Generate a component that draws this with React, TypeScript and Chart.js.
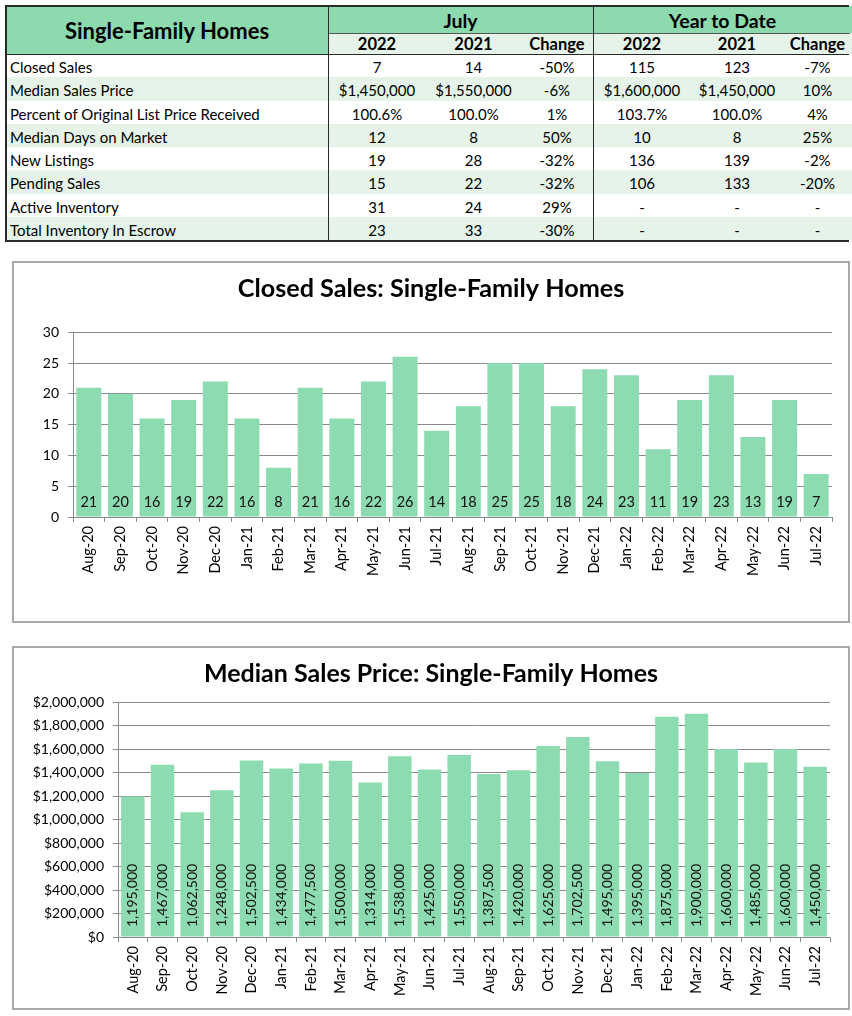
import React, { useEffect, useRef } from "react";
import { Chart, registerables } from "chart.js";

Chart.register(...registerables);

// ---------- DATA ----------
const months = [
  "Aug-20", "Sep-20", "Oct-20", "Nov-20", "Dec-20", "Jan-21", "Feb-21", "Mar-21",
  "Apr-21", "May-21", "Jun-21", "Jul-21", "Aug-21", "Sep-21", "Oct-21", "Nov-21",
  "Dec-21", "Jan-22", "Feb-22", "Mar-22", "Apr-22", "May-22", "Jun-22", "Jul-22",
];
const closedSales = [21, 20, 16, 19, 22, 16, 8, 21, 16, 22, 26, 14, 18, 25, 25, 18, 24, 23, 11, 19, 23, 13, 19, 7];
const medianPrice = [
  1195000, 1467000, 1062500, 1248000, 1502500, 1434000, 1477500, 1500000,
  1314000, 1538000, 1425000, 1550000, 1387500, 1420000, 1625000, 1702500,
  1495000, 1395000, 1875000, 1900000, 1600000, 1485000, 1600000, 1450000,
];

const tableTitle = "Single-Family Homes";
const periodHeaders = ["July", "Year to Date"];
const columnHeaders = ["2022", "2021", "Change", "2022", "2021", "Change"];
const metricLabels = [
  "Closed Sales",
  "Median Sales Price",
  "Percent of Original List Price Received",
  "Median Days on Market",
  "New Listings",
  "Pending Sales",
  "Active Inventory",
  "Total Inventory In Escrow",
];
const julyCurrent = ["7", "$1,450,000", "100.6%", "12", "19", "15", "31", "23"];
const julyPrior = ["14", "$1,550,000", "100.0%", "8", "28", "22", "24", "33"];
const julyChange = ["-50%", "-6%", "1%", "50%", "-32%", "-32%", "29%", "-30%"];
const ytdCurrent = ["115", "$1,600,000", "103.7%", "10", "136", "106", "-", "-"];
const ytdPrior = ["123", "$1,450,000", "100.0%", "8", "139", "133", "-", "-"];
const ytdChange = ["-7%", "10%", "4%", "25%", "-2%", "-20%", "-", "-"];

// ---------- STYLE ----------
const FONT = "Lato, 'Liberation Sans', sans-serif";
const GREEN = "#8ddaae";
const LIGHT_GREEN = "#e5f3e9";
const BAR = "#8ddbb0";
const GRID = "#8a8a8a";

// table geometry
const T_LEFT = 6;
const T_TOP = 6;
const colEdges = [6, 328, 426, 521, 593, 691, 783, 852];
const H1 = 27;
const H2 = 21;
const ROW_H = 23.25;

function Table() {
  const cells: React.ReactNode[] = [];
  const headTop = T_TOP;
  const bodyTop = T_TOP + H1 + H2;
  cells.push(
    <div key="t" style={{ position: "absolute", left: colEdges[0], top: headTop, width: colEdges[1] - colEdges[0], height: H1 + H2, background: GREEN, display: "flex", alignItems: "center", justifyContent: "center", fontWeight: 700, fontSize: 22 }}>
      {tableTitle}
    </div>
  );
  periodHeaders.forEach((p, i) => {
    const l = colEdges[1 + i * 3];
    const r = colEdges[4 + i * 3];
    cells.push(
      <div key={"p" + i} style={{ position: "absolute", left: l, top: headTop, width: r - l, height: H1, background: GREEN, display: "flex", alignItems: "center", justifyContent: "center", fontWeight: 700, fontSize: 19.5, paddingTop: 1, boxSizing: "border-box" }}>
        {p}
      </div>
    );
  });
  columnHeaders.forEach((h, i) => {
    const l = colEdges[1 + i];
    const r = colEdges[2 + i];
    cells.push(
      <div key={"h" + i} style={{ position: "absolute", left: l, top: headTop + H1, width: r - l, height: H2, background: LIGHT_GREEN, display: "flex", alignItems: "center", justifyContent: "center", fontWeight: 700, fontSize: 16.5, paddingTop: 1, boxSizing: "border-box" }}>
        {h}
      </div>
    );
  });
  const cols = [julyCurrent, julyPrior, julyChange, ytdCurrent, ytdPrior, ytdChange];
  metricLabels.forEach((m, r) => {
    const top = bodyTop + r * ROW_H;
    const bg = r % 2 === 1 ? LIGHT_GREEN : "#ffffff";
    cells.push(
      <div key={"bg" + r} style={{ position: "absolute", left: colEdges[0], top, width: colEdges[7] - colEdges[0], height: ROW_H, background: bg }} />
    );
    cells.push(
      <div key={"m" + r} style={{ position: "absolute", left: colEdges[0] + 4, top, height: ROW_H, display: "flex", alignItems: "center", paddingTop: 3, boxSizing: "border-box", fontSize: 15, whiteSpace: "nowrap" }}>
        {m}
      </div>
    );
    cols.forEach((c, ci) => {
      const l = colEdges[1 + ci];
      const w = colEdges[2 + ci] - l;
      cells.push(
        <div key={"c" + r + "_" + ci} style={{ position: "absolute", left: l, top, width: w, height: ROW_H, display: "flex", alignItems: "center", justifyContent: "center", paddingTop: 3, boxSizing: "border-box", fontSize: 15, whiteSpace: "nowrap" }}>
          {c[r]}
        </div>
      );
    });
  });
  const tableBottom = bodyTop + metricLabels.length * ROW_H;
  const line = (key: string, l: number, t: number, w: number, h: number, color = "#2a2a2a") => (
    <div key={key} style={{ position: "absolute", left: l, top: t, width: w, height: h, background: color }} />
  );
  cells.push(line("lt", T_LEFT - 1, T_TOP - 1, 849 - T_LEFT + 1, 1.5));
  cells.push(line("ll", T_LEFT - 1, T_TOP - 1, 1.5, tableBottom - T_TOP + 2));
  cells.push(line("lb", T_LEFT - 1, tableBottom, 849 - T_LEFT + 1, 1.5));
  cells.push(line("lh", T_LEFT - 1, bodyTop - 0.5, 849 - T_LEFT + 1, 1.5));
  cells.push(line("lm", colEdges[1] + 1, headTop + H1 - 0.5, 849 - colEdges[1], 1, "#555"));
  cells.push(line("v1", colEdges[1] - 0.5, T_TOP - 1, 1.5, tableBottom - T_TOP + 2));
  cells.push(line("v2", colEdges[4] - 0.5, T_TOP - 1, 1.5, tableBottom - T_TOP + 2));
  return <>{cells}</>;
}

type BarChartProps = {
  title: string;
  values: number[];
  yMax: number;
  yStep: number;
  yFormat: (v: number) => string;
  labelFormat: (v: number) => string;
  verticalLabels: boolean;
  labelOffset: number;
  labelSize: number;
  titleSize: number;
  width: number;
  height: number;
  plotLeft: number;
  rightPad: number;
  titlePadTop: number;
  titlePadBottom: number;
  plotBottom: number;
  bottomPad: number;
};

function BarChart(p: BarChartProps) {
  const ref = useRef<HTMLCanvasElement | null>(null);
  useEffect(() => {
    if (!ref.current) return;
    const labelPlugin = {
      id: "valueLabels",
      afterDatasetsDraw(chart: any) {
        const ctx = chart.ctx;
        const meta = chart.getDatasetMeta(0);
        const zero = chart.scales.y.getPixelForValue(0);
        const data = chart.data.datasets[0].data as number[];
        ctx.save();
        ctx.fillStyle = "#111";
        ctx.font = `${p.labelSize}px ${FONT}`;
        meta.data.forEach((bar: any, i: number) => {
          const text = p.labelFormat(data[i]);
          if (p.verticalLabels) {
            ctx.save();
            ctx.translate(bar.x, zero - p.labelOffset);
            ctx.rotate(-Math.PI / 2);
            ctx.textAlign = "left";
            ctx.textBaseline = "middle";
            ctx.fillText(text, 0, 0);
            ctx.restore();
          } else {
            ctx.textAlign = "center";
            ctx.textBaseline = "middle";
            ctx.fillText(text, bar.x, zero - p.labelOffset);
          }
        });
        ctx.restore();
      },
    };
    const xAxisHeight = p.height - p.plotBottom - p.bottomPad;
    // symmetric side padding keeps the title centred on the canvas
    const sidePad = p.rightPad;
    const yAxisWidth = p.plotLeft - sidePad;
    const chart = new Chart(ref.current, {
      type: "bar",
      data: {
        labels: months,
        datasets: [
          {
            data: p.values,
            backgroundColor: BAR,
            borderWidth: 0,
            categoryPercentage: 1,
            barPercentage: 0.79,
          },
        ],
      },
      options: {
        responsive: false,
        animation: false,
        events: [],
        layout: { padding: { left: sidePad, right: sidePad, top: 0, bottom: p.bottomPad } },
        plugins: {
          legend: { display: false },
          tooltip: { enabled: false },
          title: {
            display: true,
            text: p.title,
            color: "#000",
            font: { family: FONT, size: p.titleSize, weight: "bold" },
            padding: { top: p.titlePadTop, bottom: p.titlePadBottom },
          },
        },
        scales: {
          x: {
            offset: true,
            grid: { offset: true, drawOnChartArea: false, drawTicks: true, tickLength: 5, color: GRID },
            border: { display: true, color: GRID, width: 1 },
            ticks: {
              autoSkip: false,
              minRotation: 90,
              maxRotation: 90,
              padding: 4,
              color: "#000",
              font: { family: FONT, size: 14.5 },
            },
            afterFit: (s: any) => {
              s.height = xAxisHeight;
            },
          },
          y: {
            min: 0,
            max: p.yMax,
            grid: { color: GRID, tickLength: 5, drawTicks: true },
            border: { display: true, color: GRID, width: 1 },
            ticks: {
              stepSize: p.yStep,
              padding: 9,
              color: "#000",
              font: { family: FONT, size: 14 },
              callback: (v: any) => p.yFormat(Number(v)),
            },
            afterFit: (s: any) => {
              s.width = yAxisWidth;
            },
          },
        },
      },
      plugins: [labelPlugin],
    });
    return () => chart.destroy();
  }, []);
  return <canvas ref={ref} width={p.width} height={p.height} style={{ display: "block", width: p.width, height: p.height }} />;
}

export default function App() {
  return (
    <div style={{ position: "absolute", left: 0, top: 0, width: 852, height: 1016, background: "#fff", fontFamily: FONT, color: "#000", overflow: "hidden" }}>
      <Table />
      <div style={{ position: "absolute", left: 12, top: 261, width: 834, height: 358, border: "2px solid #a9a9a9" }}>
        <BarChart
          title="Closed Sales: Single-Family Homes"
          values={closedSales}
          yMax={30}
          yStep={5}
          yFormat={(v) => String(v)}
          labelFormat={(v) => String(v)}
          verticalLabels={false}
          labelOffset={15}
          labelSize={14.5}
          titleSize={25.2}
          width={834}
          height={358}
          plotLeft={59}
          rightPad={16}
          titlePadTop={11}
          titlePadBottom={28}
          plotBottom={254}
          bottomPad={20}
        />
      </div>
      <div style={{ position: "absolute", left: 12, top: 646, width: 834, height: 360, border: "2px solid #a9a9a9" }}>
        <BarChart
          title="Median Sales Price: Single-Family Homes"
          values={medianPrice}
          yMax={2000000}
          yStep={200000}
          yFormat={(v) => "$" + v.toLocaleString("en-US")}
          labelFormat={(v) => v.toLocaleString("en-US")}
          verticalLabels={true}
          labelOffset={10}
          labelSize={14}
          titleSize={25}
          width={834}
          height={360}
          plotLeft={104}
          rightPad={18}
          titlePadTop={11}
          titlePadBottom={13}
          plotBottom={289}
          bottomPad={4}
        />
      </div>
    </div>
  );
}
